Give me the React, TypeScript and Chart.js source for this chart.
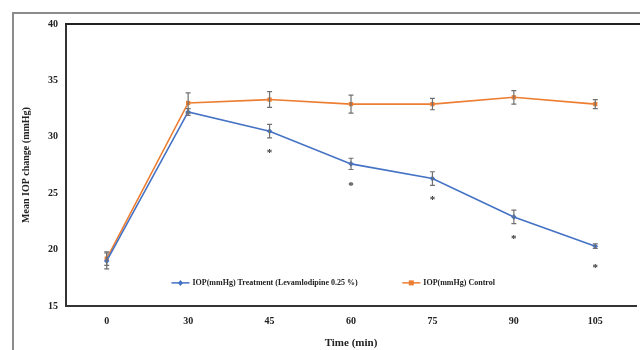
import React, { useEffect, useRef } from "react";
import { Chart, registerables } from "chart.js";

Chart.register(...registerables);

const categories = ["0", "30", "45", "60", "75", "90", "105"];
const treatmentValues = [19.0, 32.2, 30.5, 27.6, 26.3, 22.9, 20.3];
const treatmentErrors = [0.7, 0.3, 0.6, 0.5, 0.6, 0.6, 0.2];
const controlValues = [19.2, 33.0, 33.3, 32.9, 32.9, 33.5, 32.9];
const controlErrors = [0.6, 0.9, 0.7, 0.8, 0.5, 0.6, 0.4];
const treatmentSignificant = [false, false, true, true, true, true, true];
const treatmentLabel = "IOP(mmHg) Treatment (Levamlodipine 0.25 %)";
const controlLabel = "IOP(mmHg) Control";
const yTicks = [15, 20, 25, 30, 35, 40];

const BLUE = "#4472C4";
const ORANGE = "#ED7D31";
const FONT = "'Liberation Serif', 'Times New Roman', serif";

const errors = [treatmentErrors, controlErrors];

const customPlugin = {
  id: "custom",
  beforeDraw(chart: any) {
    const ctx = chart.ctx;
    ctx.save();
    ctx.strokeStyle = "#8c8c8c";
    ctx.lineWidth = 2;
    ctx.beginPath();
    ctx.moveTo(13, chart.height);
    ctx.lineTo(13, 13);
    ctx.lineTo(chart.width, 13);
    ctx.stroke();
    ctx.restore();
  },
  afterDraw(chart: any) {
    const ctx = chart.ctx;
    const area = chart.chartArea;
    ctx.save();
    ctx.strokeStyle = "#222";
    ctx.lineWidth = 2;
    ctx.beginPath();
    ctx.moveTo(area.left - 1, area.top);
    ctx.lineTo(chart.width, area.top);
    ctx.stroke();
    ctx.restore();
  },
  afterDatasetsDraw(chart: any) {
    const ctx = chart.ctx;
    const xs = chart.scales.x;
    const ys = chart.scales.y;
    ctx.save();
    chart.data.datasets.forEach((ds: any, di: number) => {
      const errs = errors[di];
      ds.data.forEach((v: number, i: number) => {
        const x = xs.getPixelForValue(i);
        const yt = ys.getPixelForValue(v + errs[i]);
        const yb = ys.getPixelForValue(v - errs[i]);
        ctx.strokeStyle = "#707070";
        ctx.lineWidth = 1.2;
        ctx.beginPath();
        ctx.moveTo(x, yt);
        ctx.lineTo(x, yb);
        ctx.moveTo(x - 2.5, yt);
        ctx.lineTo(x + 2.5, yt);
        ctx.moveTo(x - 2.5, yb);
        ctx.lineTo(x + 2.5, yb);
        ctx.stroke();
      });
    });
    // asterisks
    ctx.fillStyle = "#333";
    ctx.font = `bold 11px ${FONT}`;
    ctx.textAlign = "center";
    ctx.textBaseline = "middle";
    treatmentValues.forEach((v, i) => {
      if (!treatmentSignificant[i]) return;
      const x = xs.getPixelForValue(i);
      const y = ys.getPixelForValue(v) + 22;
      ctx.fillText("*", x, y);
    });
    // legend inside the plot
    const area = chart.chartArea;
    const ly = area.top + (area.bottom - area.top) * 0.918;
    const items = [
      { label: treatmentLabel, color: BLUE, style: "rectRot", x: area.left + (area.right - area.left) * 0.185 },
      { label: controlLabel, color: ORANGE, style: "rect", x: area.left + (area.right - area.left) * 0.59 },
    ];
    ctx.font = `bold 8px ${FONT}`;
    ctx.textAlign = "left";
    items.forEach((it) => {
      ctx.strokeStyle = it.color;
      ctx.lineWidth = 1.5;
      ctx.beginPath();
      ctx.moveTo(it.x, ly);
      ctx.lineTo(it.x + 18, ly);
      ctx.stroke();
      ctx.fillStyle = it.color;
      const cx = it.x + 9;
      if (it.style === "rect") {
        ctx.fillRect(cx - 2.5, ly - 2.5, 5, 5);
      } else {
        ctx.beginPath();
        ctx.moveTo(cx, ly - 3);
        ctx.lineTo(cx + 2.5, ly);
        ctx.lineTo(cx, ly + 3);
        ctx.lineTo(cx - 2.5, ly);
        ctx.closePath();
        ctx.fill();
      }
      ctx.fillStyle = "#222";
      ctx.fillText(it.label, it.x + 21, ly + 0.5);
    });
    ctx.restore();
  },
};

export default function App() {
  const ref = useRef<HTMLCanvasElement | null>(null);
  useEffect(() => {
    document.body.style.margin = "0";
    const canvas = ref.current;
    if (!canvas) return;
    const chart = new Chart(canvas, {
      type: "line",
      data: {
        labels: categories,
        datasets: [
          {
            label: treatmentLabel,
            data: treatmentValues,
            borderColor: BLUE,
            backgroundColor: BLUE,
            borderWidth: 1.6,
            pointStyle: "rectRot",
            pointRadius: 2.8,
            pointBorderWidth: 0,
            tension: 0,
          },
          {
            label: controlLabel,
            data: controlValues,
            borderColor: ORANGE,
            backgroundColor: ORANGE,
            borderWidth: 1.6,
            pointStyle: "rect",
            pointRadius: 3,
            pointBorderWidth: 0,
            tension: 0,
          },
        ],
      },
      options: {
        animation: false,
        responsive: false,
        devicePixelRatio: 1,
        layout: { padding: { top: 24, right: 0, left: 0, bottom: 0 } },
        plugins: {
          legend: { display: false },
          tooltip: { enabled: false },
        },
        scales: {
          x: {
            type: "category",
            offset: true,
            grid: { display: false, drawTicks: false },
            border: { color: "#333", width: 2 },
            ticks: {
              color: "#222",
              font: { family: FONT, size: 10, weight: "bold" },
              padding: 9,
            },
            title: {
              display: true,
              text: "Time (min)",
              color: "#222",
              font: { family: FONT, size: 11, weight: "bold" },
              padding: { top: 8, bottom: 0 },
            },
            afterFit(scale: any) {
              scale.height = 44;
            },
          },
          y: {
            min: 15,
            max: 40,
            afterBuildTicks(scale: any) {
              scale.ticks = yTicks.map((v) => ({ value: v }));
            },
            grid: { display: false, drawTicks: false },
            border: { color: "#333", width: 2 },
            ticks: {
              color: "#222",
              font: { family: FONT, size: 10, weight: "bold" },
              padding: 8,
            },
            title: {
              display: true,
              text: "Mean IOP change (mmHg)",
              color: "#222",
              font: { family: FONT, size: 10, weight: "bold" },
              padding: { top: 20, bottom: 0 },
            },
            afterFit(scale: any) {
              scale.width = 66;
            },
          },
        },
      },
      plugins: [customPlugin],
    } as any);
    return () => chart.destroy();
  }, []);
  return <canvas ref={ref} width={640} height={350} style={{ display: "block" }} />;
}
